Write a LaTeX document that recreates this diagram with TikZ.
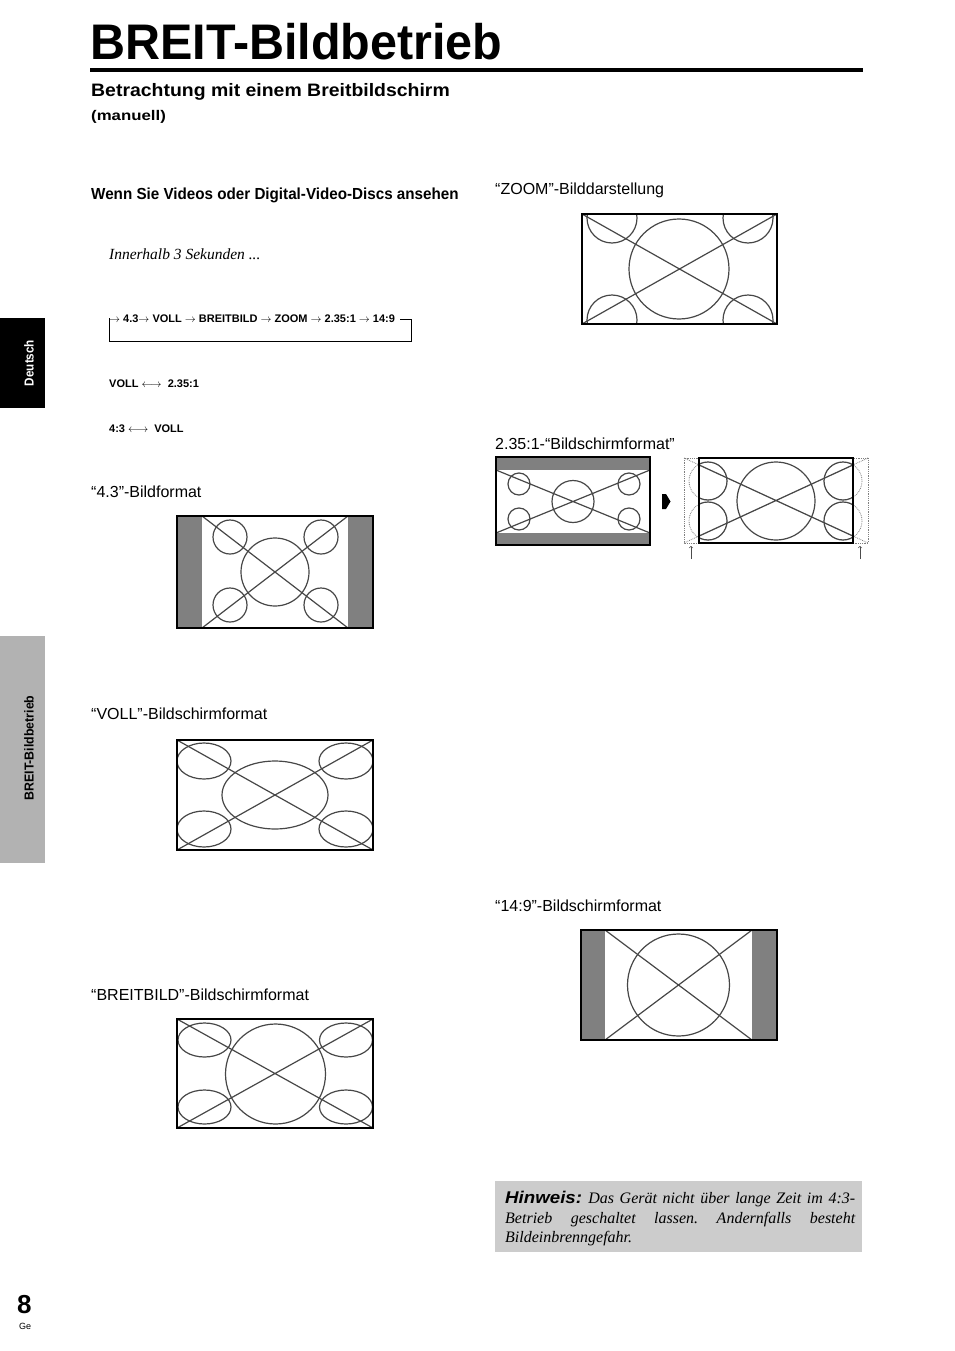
\documentclass[tikz,border=0pt]{standalone}
\usepackage{fontspec}
\setmainfont{Liberation Sans}
\newfontfamily\timesfont{Liberation Serif}
\usepackage{graphicx}
\usetikzlibrary{calc}

\tikzset{
  txt/.style={inner sep=0, anchor=base west},
  label/.style={txt, font=\fontsize{16}{16}\selectfont},
  small/.style={txt, font=\fontsize{11}{11}\selectfont\bfseries},
  screen/.style={draw=black, line width=1.6},
  pic/.style={draw=black!72, line width=1.2},
  dotpic/.style={draw=black!50, line width=0.8, densely dotted},
  bar/.style={fill=black!50},
  hint/.style={fill=black!20}
}

\begin{document}
\frenchspacing
\begin{tikzpicture}[x=1pt, y=-1pt, >=to]
  \useasboundingbox[fill=white] (0, 0) rectangle (954, 1351);

  \node[txt] (title) at (90, 60) {\fontsize{50}{50}\selectfont\bfseries\scalebox{0.97}[1]{BREIT-Bildbetrieb}};
  \draw[line width=4] (90, 70) -- (863, 70);
  \node[txt] (sub) at (91, 97) {\fontsize{18}{18}\selectfont\bfseries\scalebox{1.08}[1]{Betrachtung mit einem Breitbildschirm}};
  \node[txt] (manuell) at (91, 121) {\fontsize{14}{14}\selectfont\bfseries\scalebox{1.2}[1]{(manuell)}};

  \node[txt] (wenn) at (91, 200) {\fontsize{16}{16}\selectfont\bfseries\scalebox{0.95}[1]{Wenn Sie Videos oder Digital-Video-Discs ansehen}};
  \node[txt] (innerhalb) at (109, 259) {\fontsize{15.5}{15.5}\selectfont\timesfont\itshape Innerhalb 3 Sekunden ...};

  \node[small] (seq) at (109, 322) {$\rightarrow$ 4.3$\rightarrow$ VOLL $\rightarrow$ BREITBILD $\rightarrow$ ZOOM $\rightarrow$ 2.35:1 $\rightarrow$ 14:9};
  \coordinate (loopA) at (400, 319);
  \coordinate (loopB) at (411, 341);
  \draw[line width=0.8] (loopA) -| (loopB) -| (seq.west);

  \node[small] (vollpair) at (109, 387) {VOLL $\longleftrightarrow$\ \ 2.35:1};
  \node[small] (vierpair) at (109, 432) {4:3 $\longleftrightarrow$\ \ VOLL};

  % 4.3
  \node[label] (l43) at (91, 497) {“4.3”-Bildformat};
  \fill[bar] (177, 516) rectangle (202, 628);
  \fill[bar] (348, 516) rectangle (373, 628);
  \draw[pic] (202, 516) -- (348, 628) (348, 516) -- (202, 628);
  \draw[pic] (275, 572) circle (34);
  \foreach \cx/\cy in {230/537, 321/537, 230/605, 321/605}
    \draw[pic] (\cx, \cy) circle (17);
  \draw[screen] (177, 516) rectangle (373, 628);

  % VOLL
  \node[label] (lvoll) at (91, 719) {“VOLL”-Bildschirmformat};
  \draw[pic] (177, 740) -- (373, 850) (373, 740) -- (177, 850);
  \draw[pic] (275, 795) ellipse (53 and 34);
  \foreach \cx/\cy in {204/761, 346/761, 204/829, 346/829}
    \draw[pic] (\cx, \cy) ellipse (27 and 18);
  \draw[screen] (177, 740) rectangle (373, 850);

  % BREITBILD
  \node[label] (lbreit) at (91, 1000) {“BREITBILD”-Bildschirmformat};
  \draw[pic] (177, 1019) -- (373, 1128) (373, 1019) -- (177, 1128);
  \draw[pic] (275.5, 1074) circle (50);
  \foreach \cx/\cy in {204.5/1040, 346/1040, 204.5/1107, 346/1107}
    \draw[pic] (\cx, \cy) ellipse (26.5 and 17);
  \draw[screen] (177, 1019) rectangle (373, 1128);

  % ZOOM
  \node[label] (lzoom) at (495, 195) {“ZOOM”-Bilddarstellung};
  \begin{scope}
    \clip (582, 214) rectangle (777, 324);
    \draw[pic] (582, 214) -- (777, 324) (777, 214) -- (582, 324);
    \draw[pic] (679, 269) circle (50);
    \foreach \cx/\cy in {612/218, 748/218, 612/320, 748/320}
      \draw[pic] (\cx, \cy) circle (25);
  \end{scope}
  \draw[screen] (582, 214) rectangle (777, 324);

  % 2.35:1
  \node[label] (l235) at (495, 449) {2.35:1-“Bildschirmformat”};
  \fill[bar] (496, 457) rectangle (650, 470);
  \fill[bar] (496, 533) rectangle (650, 545);
  \draw[pic] (496, 470) -- (650, 533) (650, 470) -- (496, 533);
  \draw[pic] (573, 501.5) circle (21);
  \foreach \cx/\cy in {519/484, 629/484, 519/519, 629/519}
    \draw[pic] (\cx, \cy) circle (11);
  \draw[screen] (496, 457) rectangle (650, 545);

  \fill (662, 494) -- (666, 494) -- (670.5, 501.5) -- (666, 509) -- (662, 509) -- cycle;

  \draw[dotpic] (684, 458) rectangle (868, 543);
  \draw[dotpic] (684, 458) -- (868, 543) (868, 458) -- (684, 543);
  \foreach \cx/\cy in {708/481, 843/481, 708/521, 843/521}
    \draw[dotpic] (\cx, \cy) circle (19);
  \begin{scope}
    \clip (699, 458) rectangle (853, 543);
    \draw[pic] (684, 458) -- (868, 543) (868, 458) -- (684, 543);
    \draw[pic] (776, 501) circle (39);
    \foreach \cx/\cy in {708/481, 843/481, 708/521, 843/521}
      \draw[pic] (\cx, \cy) circle (19);
  \end{scope}
  \draw[screen] (699, 458) rectangle (853, 543);

  \coordinate (upL) at (691, 559);
  \coordinate (upLtip) at (691, 546);
  \coordinate (upR) at (860, 559);
  \coordinate (upRtip) at (860, 546);
  \draw[->, line width=0.6, black!70] (upL) -- (upLtip);
  \draw[->, line width=0.6, black!70] (upR) -- (upRtip);

  % 14:9
  \node[label] (l149) at (495, 911) {“14:9”-Bildschirmformat};
  \fill[bar] (581, 930) rectangle (605, 1040);
  \fill[bar] (752, 930) rectangle (777, 1040);
  \draw[pic] (605, 930) -- (752, 1040) (752, 930) -- (605, 1040);
  \draw[pic] (678.5, 985) circle (51);
  \draw[screen] (581, 930) rectangle (777, 1040);

  % Hinweis
  \fill[hint] (495, 1181) rectangle (862, 1252);
  \node[txt] (hint1) at (505, 1203) {\fontsize{16}{16}\selectfont\makebox[350pt][s]{{\fontsize{17}{17}\selectfont\bfseries\itshape\scalebox{1.1}[1]{Hinweis:}} \timesfont\itshape Das Gerät nicht über lange Zeit im 4:3-}};
  \node[txt] (hint2) at (505, 1223) {\fontsize{16}{16}\selectfont\timesfont\itshape\makebox[350pt][s]{Betrieb geschaltet lassen. Andernfalls besteht}};
  \node[txt] (hint3) at (505, 1242) {\fontsize{16}{16}\selectfont\timesfont\itshape Bildeinbrenngefahr.};

  % side tabs
  \fill[black] (0, 318) rectangle (45, 408);
  \node[rotate=90, text=white, inner sep=0, font=\fontsize{13}{13}\selectfont\bfseries] (deutsch) at (29, 363) {\scalebox{0.9}[1]{Deutsch}};
  \fill[black!30] (0, 636) rectangle (45, 863);
  \node[rotate=90, inner sep=0, font=\fontsize{13}{13}\selectfont\bfseries] (tabbreit) at (29, 748) {\scalebox{0.95}[1]{BREIT-Bildbetrieb}};

  \node[txt] (page) at (17, 1313) {\fontsize{26}{26}\selectfont\bfseries 8};
  \node[txt] (ge) at (19, 1329) {\fontsize{9}{9}\selectfont Ge};
\end{tikzpicture}
\end{document}
